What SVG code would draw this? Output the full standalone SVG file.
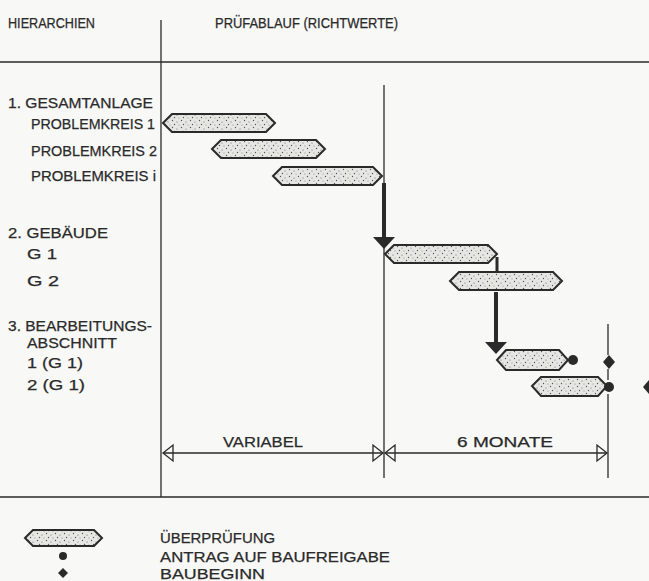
<svg xmlns="http://www.w3.org/2000/svg" width="649" height="581" viewBox="0 0 649 581">
<defs>
<pattern id="dots" width="9" height="7" patternUnits="userSpaceOnUse">
<rect width="9" height="7" fill="#e6e6e3"/>
<circle cx="1.5" cy="1.5" r="0.7" fill="#555"/>
<circle cx="6" cy="3" r="0.6" fill="#666"/>
<circle cx="3.5" cy="5.5" r="0.7" fill="#555"/>
<circle cx="8" cy="6" r="0.5" fill="#777"/>
</pattern>
</defs>
<style>
.bg{fill:#f8f8f6}
.ln{stroke:#2a2a2a;stroke-width:1.3;fill:none}
.hex{fill:url(#dots);stroke:#2a2a2a;stroke-width:2}
.t{font-family:"Liberation Sans",Arial,sans-serif;font-size:15px;fill:#2a2a2a;stroke:#2a2a2a;stroke-width:0.25}
.h{font-size:14px}
.thick{stroke:#2a2a2a;stroke-width:4;fill:none}
.open{fill:none;stroke:#2a2a2a;stroke-width:1.3}
.dot{fill:#2a2a2a}
</style>
<rect class="bg" width="649" height="581"/>

<g id="frame">
<line class="ln" x1="0" y1="62" x2="649" y2="62"/>
<line class="ln" x1="0" y1="497" x2="649" y2="497"/>
<line class="ln" x1="161" y1="20" x2="161" y2="497"/>
<line class="ln" x1="384" y1="85" x2="384" y2="478"/>
<line class="ln" x1="608" y1="324" x2="608" y2="355"/>
<line class="ln" x1="608" y1="369" x2="608" y2="380"/>
<line class="ln" x1="608" y1="394" x2="608" y2="478"/>
</g>

<g id="headers">
<text class="t h" x="8" y="28" textLength="87" lengthAdjust="spacingAndGlyphs">HIERARCHIEN</text>
<text class="t h" x="215" y="28" textLength="183" lengthAdjust="spacingAndGlyphs">PRÜFABLAUF (RICHTWERTE)</text>
</g>

<g id="labels">
<text class="t" x="8" y="108" textLength="145" lengthAdjust="spacingAndGlyphs">1. GESAMTANLAGE</text>
<text class="t" x="31" y="129" textLength="124" lengthAdjust="spacingAndGlyphs">PROBLEMKREIS 1</text>
<text class="t" x="31" y="156" textLength="126" lengthAdjust="spacingAndGlyphs">PROBLEMKREIS 2</text>
<text class="t" x="31" y="181" textLength="125" lengthAdjust="spacingAndGlyphs">PROBLEMKREIS i</text>
<text class="t" x="8" y="238" textLength="100" lengthAdjust="spacingAndGlyphs">2. GEBÄUDE</text>
<text class="t" x="27" y="259" textLength="30" lengthAdjust="spacingAndGlyphs">G 1</text>
<text class="t" x="27" y="286" textLength="32" lengthAdjust="spacingAndGlyphs">G 2</text>
<text class="t" x="8" y="331" textLength="144" lengthAdjust="spacingAndGlyphs">3. BEARBEITUNGS-</text>
<text class="t" x="27" y="348" textLength="90" lengthAdjust="spacingAndGlyphs">ABSCHNITT</text>
<text class="t" x="27" y="368" textLength="56" lengthAdjust="spacingAndGlyphs">1 (G 1)</text>
<text class="t" x="27" y="390" textLength="58" lengthAdjust="spacingAndGlyphs">2 (G 1)</text>
</g>

<g id="pk1"><polygon class="hex" points="163,123 172,114 266,114 275,123 266,132 172,132"/></g>
<g id="pk2"><polygon class="hex" points="212,149 221,140 316,140 325,149 316,158 221,158"/></g>
<g id="pki"><polygon class="hex" points="273,176 282,167 373,167 382,176 373,185 282,185"/></g>
<g id="g1"><polygon class="hex" points="385,254 394,245 488,245 497,254 488,263 394,263"/></g>
<g id="g2"><polygon class="hex" points="450,281 459,272 553,272 562,281 553,290 459,290"/></g>
<g id="ba1"><polygon class="hex" points="497,360 506,350 559,350 568,360 559,370 506,370"/><circle class="dot" cx="573" cy="360" r="5"/></g>
<g id="ba2"><polygon class="hex" points="532,386 541,377 598,377 607,386 598,396 541,396"/><circle class="dot" cx="609" cy="387" r="5"/></g>
<g id="milestones">
<polygon class="dot" points="609,355 615,362 609,369 603,362"/>
<polygon class="dot" points="649,380 655,387 649,394 643,387"/>
</g>

<g id="connectors">
<line class="thick" x1="384" y1="183" x2="384" y2="238"/>
<polygon class="dot" points="373,237 395,237 384,249"/>
<line class="ln" x1="497" y1="257" x2="497" y2="272" style="stroke-width:3"/>
<line class="thick" x1="496" y1="292" x2="496" y2="343"/>
<polygon class="dot" points="485,342 507,342 496,354"/>
</g>

<g id="dimensions">
<line class="ln" x1="163" y1="453" x2="383" y2="453"/>
<line class="ln" x1="385" y1="453" x2="607" y2="453"/>
<polygon class="open" points="163,453 173,445 173,461"/>
<polygon class="open" points="383,453 373,445 373,461"/>
<polygon class="open" points="385,453 395,445 395,461"/>
<polygon class="open" points="607,453 597,445 597,461"/>
<text class="t" x="263" y="447" text-anchor="middle" textLength="80" lengthAdjust="spacingAndGlyphs">VARIABEL</text>
<text class="t" x="505" y="447" text-anchor="middle" textLength="96" lengthAdjust="spacingAndGlyphs">6 MONATE</text>
</g>

<g id="legend">
<polygon class="hex" points="25,538 33,530 94,530 102,538 94,546 33,546"/>
<circle class="dot" cx="63" cy="556" r="4"/>
<polygon class="dot" points="63,568 68,573 63,578 58,573"/>
<text class="t" x="160" y="543" textLength="115" lengthAdjust="spacingAndGlyphs">ÜBERPRÜFUNG</text>
<text class="t" x="160" y="562" textLength="230" lengthAdjust="spacingAndGlyphs">ANTRAG AUF BAUFREIGABE</text>
<text class="t" x="160" y="579" textLength="105" lengthAdjust="spacingAndGlyphs">BAUBEGINN</text>
</g>
</svg>
